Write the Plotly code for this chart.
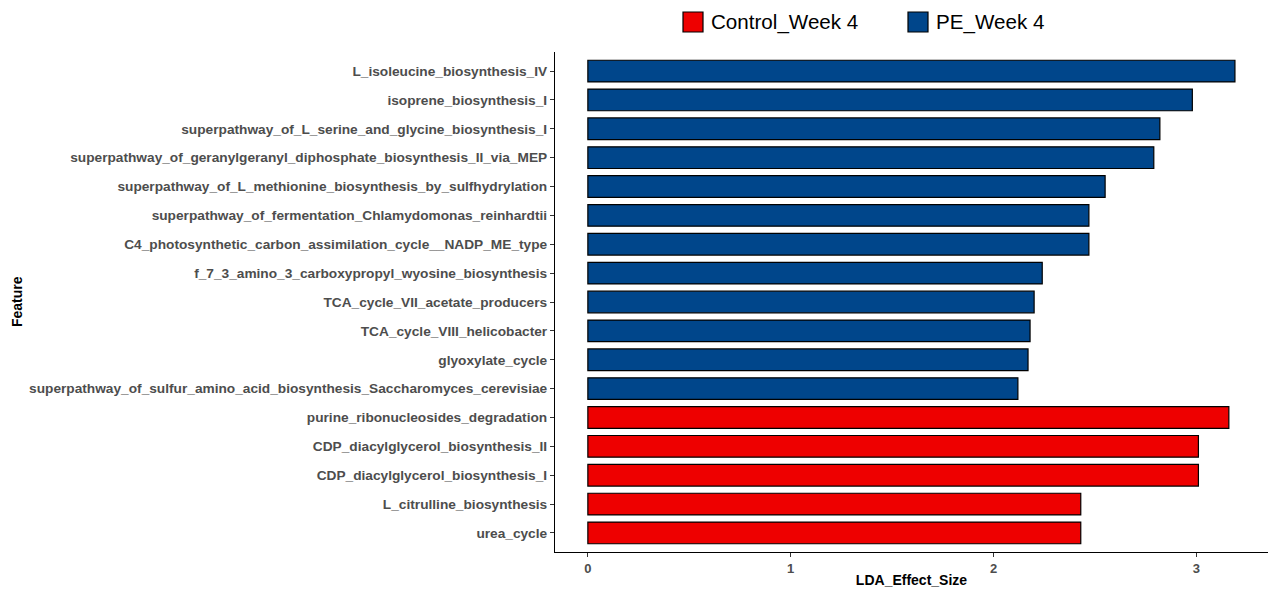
import plotly.graph_objects as go

features = [
    "urea_cycle",
    "L_citrulline_biosynthesis",
    "CDP_diacylglycerol_biosynthesis_I",
    "CDP_diacylglycerol_biosynthesis_II",
    "purine_ribonucleosides_degradation",
    "superpathway_of_sulfur_amino_acid_biosynthesis_Saccharomyces_cerevisiae",
    "glyoxylate_cycle",
    "TCA_cycle_VIII_helicobacter",
    "TCA_cycle_VII_acetate_producers",
    "f_7_3_amino_3_carboxypropyl_wyosine_biosynthesis",
    "C4_photosynthetic_carbon_assimilation_cycle__NADP_ME_type",
    "superpathway_of_fermentation_Chlamydomonas_reinhardtii",
    "superpathway_of_L_methionine_biosynthesis_by_sulfhydrylation",
    "superpathway_of_geranylgeranyl_diphosphate_biosynthesis_II_via_MEP",
    "superpathway_of_L_serine_and_glycine_biosynthesis_I",
    "isoprene_biosynthesis_I",
    "L_isoleucine_biosynthesis_IV",
]
lda = [2.43, 2.43, 3.01, 3.01, 3.16, 2.12, 2.17, 2.18, 2.20, 2.24, 2.47, 2.47, 2.55, 2.79, 2.82, 2.98, 3.19]
groups = ["Control_Week 4"] * 5 + ["PE_Week 4"] * 12
group_order = ["Control_Week 4", "PE_Week 4"]
colors = {"Control_Week 4": "#EE0000", "PE_Week 4": "#00468B"}
x_ticks = [0, 1, 2, 3]
x_tick_labels = ["0", "1", "2", "3"]

FONT = "Liberation Sans, Arial, sans-serif"
W, H = 1269, 590
ML, MR, MT, MB = 555, 1, 52, 38

fig = go.Figure()
for g in group_order:
    ys = [f for f, gg in zip(features, groups) if gg == g]
    xs = [v for v, gg in zip(lda, groups) if gg == g]
    fig.add_trace(go.Bar(
        x=xs, y=ys, orientation="h", name=g,
        marker=dict(color=colors[g], line=dict(color="black", width=1.2)),
        width=0.75, showlegend=False,
    ))

# custom legend (large swatches like ggplot)
pw = W - ML - MR
ph = H - MT - MB
def px_x(p):
    return (p - ML) / pw
def px_y(p):
    return (H - MB - p) / ph

legend_pos = [683, 908]
for g, lx in zip(group_order, legend_pos):
    fig.add_shape(type="rect", xref="paper", yref="paper",
                  x0=px_x(lx), x1=px_x(lx + 20), y0=px_y(32), y1=px_y(12),
                  fillcolor=colors[g], line=dict(color="black", width=1.2))
    fig.add_annotation(text=g, xref="paper", yref="paper",
                       x=px_x(lx + 26), y=px_y(22), xanchor="left", yanchor="middle",
                       showarrow=False, font=dict(size=20.6, color="black", family=FONT))

# y-axis title placed like ggplot's
fig.add_annotation(text="<b>Feature</b>", xref="paper", yref="paper",
                   x=px_x(17), y=0.5, xanchor="center", yanchor="middle", textangle=-90,
                   showarrow=False, font=dict(size=14, color="black", family=FONT))

fig.update_layout(
    width=W, height=H,
    margin=dict(l=ML, r=MR, t=MT, b=MB, autoexpand=False),
    plot_bgcolor="white", paper_bgcolor="white",
    font=dict(family=FONT),
    barmode="overlay",
    showlegend=False,
    xaxis=dict(
        range=[-0.162, 3.353], tickmode="array", tickvals=x_ticks,
        ticktext=["<b>%s</b>" % t for t in x_tick_labels],
        ticks="outside", ticklen=4,
        tickcolor="#333333", showline=True, linecolor="black", linewidth=1.2,
        showgrid=False, zeroline=False,
        tickfont=dict(size=13, color="#4d4d4d", family=FONT),
        ticklabelstandoff=0,
        title=dict(text="<b>LDA_Effect_Size</b>", font=dict(size=14, color="black"), standoff=0),
    ),
    yaxis=dict(
        categoryorder="array", categoryarray=features, range=[-0.66, 16.66],
        ticks="outside", ticklen=4, tickcolor="#333333",
        showline=True, linecolor="black", linewidth=1.2, showgrid=False, zeroline=False,
        tickmode="array", tickvals=features,
        ticktext=["<b>%s</b>" % f for f in features],
        tickfont=dict(size=13.7, color="#4d4d4d", family=FONT),
        ticklabelstandoff=0,
    ),
)

fig.write_html("out.html", config={"displayModeBar": False},
               post_script="document.body.style.margin='0';document.body.style.overflow='hidden';")
